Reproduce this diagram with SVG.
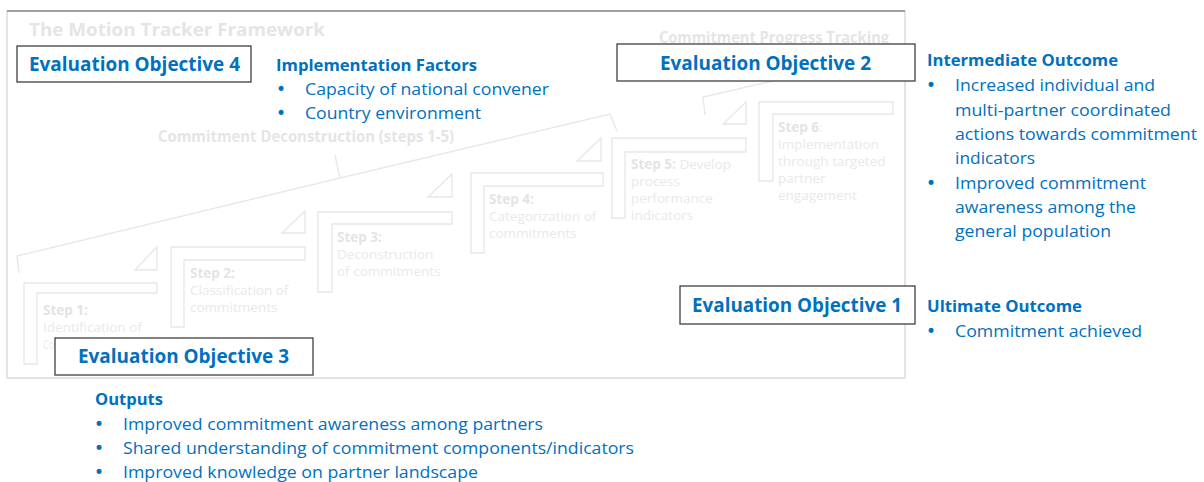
<svg xmlns="http://www.w3.org/2000/svg" width="1204" height="482" viewBox="0 0 1204 482">
  <style>
    .faint-line { fill: none; stroke: #e8e8e8; stroke-width: 1.4; stroke-linejoin: miter; }
    .faint-head { font-family: "Open Sans", "Noto Sans", sans-serif; font-weight: 700; fill: #e5e5e5; }
    .step { font-family: "Open Sans", "Noto Sans", sans-serif; font-size: 13.5px; fill: #e9e9e9; }
    .step .b { font-weight: 700; fill: #e4e4e4; }
    .obj-box { fill: #ffffff; stroke: #404040; stroke-width: 1.3; }
    .obj-text { font-family: "Open Sans", "Noto Sans", sans-serif; font-weight: 700; font-size: 19.5px; fill: #0070c0; }
    .head { font-family: "Open Sans", "Noto Sans", sans-serif; font-weight: 700; font-size: 16.5px; fill: #0070c0; }
    .body { font-family: "Open Sans", "Noto Sans", sans-serif; font-size: 16.5px; fill: #0070c0; }
    .dot { font-family: "DejaVu Sans", sans-serif; font-size: 17px; fill: #0070c0; }
  </style>

  <!-- framework panel (faded backdrop) -->
  <g id="framework">
    <rect x="7" y="11" width="898" height="367" fill="#ffffff" stroke="#e4e4e4" stroke-width="2"/>
    <line x1="7" y1="11" x2="905" y2="11" stroke="#8a8a8a" stroke-width="1.6"/>
    <text class="faint-head" x="29" y="36" font-size="18" textLength="296" lengthAdjust="spacingAndGlyphs">The Motion Tracker Framework</text>
    <text class="faint-head" x="158" y="142" font-size="15.5" textLength="296" lengthAdjust="spacingAndGlyphs">Commitment Deconstruction (steps 1-5)</text>
    <text class="faint-head" x="659" y="43" font-size="15.5" textLength="230" lengthAdjust="spacingAndGlyphs">Commitment Progress Tracking</text>
  </g>

  <!-- braces grouping the steps -->
  <g id="braces" class="faint-line">
    <path d="M19,273 L17,256 L340,178 L335,155 M340,178 L610,114 L617,131"/>
    <path d="M705,115 L703,97 L890,54"/>
  </g>

  <!-- staircase of steps -->
  <g id="step1">
    <polygon class="faint-line" points="24,283 157,283 157,293 37,293 37,364 24,364"/>
    <polygon class="faint-line" points="135,270 157,270 157,247"/>
    <text class="step" x="43" y="315"><tspan class="b">Step 1:</tspan><tspan x="43" y="332">Identification of</tspan></text>
    <text class="step" x="43" y="349" textLength="11" lengthAdjust="spacingAndGlyphs">Co</text>
  </g>
  <g id="step2">
    <polygon class="faint-line" points="171,247 305,247 305,260 184,260 184,327 171,327"/>
    <polygon class="faint-line" points="282,233 305,233 305,211"/>
    <text class="step" x="190" y="278"><tspan class="b">Step 2:</tspan><tspan x="190" y="295">Classification of</tspan><tspan x="190" y="312">commitments</tspan></text>
  </g>
  <g id="step3">
    <polygon class="faint-line" points="318,212 452,212 452,224 332,224 332,292 318,292"/>
    <polygon class="faint-line" points="428,197 452,197 452,174"/>
    <text class="step" x="337" y="242"><tspan class="b">Step 3:</tspan><tspan x="337" y="259">Deconstruction</tspan><tspan x="337" y="276">of commitments</tspan></text>
  </g>
  <g id="step4">
    <polygon class="faint-line" points="471,173 603,173 603,186 484,186 484,253 471,253"/>
    <polygon class="faint-line" points="577,161 601,161 601,138"/>
    <text class="step" x="489" y="204"><tspan class="b">Step 4:</tspan><tspan x="489" y="221">Categorization of</tspan><tspan x="489" y="238">commitments</tspan></text>
  </g>
  <g id="step5">
    <polygon class="faint-line" points="612,138 746,138 746,152 625,152 625,218 612,218"/>
    <polygon class="faint-line" points="723,124 746,124 746,102"/>
    <text class="step" x="631" y="169"><tspan class="b">Step 5:</tspan> Develop<tspan x="631" y="186">process</tspan><tspan x="631" y="203">performance</tspan><tspan x="631" y="220">indicators</tspan></text>
  </g>
  <g id="step6">
    <polygon class="faint-line" points="759,102 893,102 893,114 773,114 773,181 759,181"/>
    <text class="step" x="778" y="132"><tspan class="b">Step 6</tspan>:<tspan x="778" y="149">Implementation</tspan><tspan x="778" y="166">through targeted</tspan><tspan x="778" y="183">partner</tspan><tspan x="778" y="200">engagement</tspan></text>
  </g>

  <!-- evaluation objectives -->
  <g id="objective4">
    <rect class="obj-box" x="17" y="46" width="234" height="36"/>
    <text class="obj-text" x="29" y="71" textLength="211" lengthAdjust="spacingAndGlyphs">Evaluation Objective 4</text>
  </g>
  <g id="objective2">
    <rect class="obj-box" x="617" y="44" width="298" height="37"/>
    <text class="obj-text" x="660" y="70" textLength="211" lengthAdjust="spacingAndGlyphs">Evaluation Objective 2</text>
  </g>
  <g id="objective1">
    <rect class="obj-box" x="680" y="286" width="235" height="38"/>
    <text class="obj-text" x="692" y="312" textLength="210" lengthAdjust="spacingAndGlyphs">Evaluation Objective 1</text>
  </g>
  <g id="objective3">
    <rect class="obj-box" x="55" y="338" width="258" height="37"/>
    <text class="obj-text" x="78" y="363" textLength="211" lengthAdjust="spacingAndGlyphs">Evaluation Objective 3</text>
  </g>

  <!-- implementation factors -->
  <g id="implementation-factors">
    <text class="head" x="276" y="71" textLength="201" lengthAdjust="spacingAndGlyphs">Implementation Factors</text>
    <text class="dot" x="276" y="95">•</text>
    <text class="body" x="305" y="95" textLength="244" lengthAdjust="spacingAndGlyphs">Capacity of national convener</text>
    <text class="dot" x="276" y="119">•</text>
    <text class="body" x="305" y="119" textLength="176" lengthAdjust="spacingAndGlyphs">Country environment</text>
  </g>

  <!-- intermediate outcome -->
  <g id="intermediate-outcome">
    <text class="head" x="927" y="66" textLength="191" lengthAdjust="spacingAndGlyphs">Intermediate Outcome</text>
    <text class="dot" x="926" y="91">•</text>
    <text class="body" x="955" y="91" textLength="200" lengthAdjust="spacingAndGlyphs">Increased individual and</text>
    <text class="body" x="955" y="115.5" textLength="216" lengthAdjust="spacingAndGlyphs">multi-partner coordinated</text>
    <text class="body" x="955" y="140" textLength="242" lengthAdjust="spacingAndGlyphs">actions towards commitment</text>
    <text class="body" x="955" y="164" textLength="80" lengthAdjust="spacingAndGlyphs">indicators</text>
    <text class="dot" x="926" y="189">•</text>
    <text class="body" x="955" y="189" textLength="191" lengthAdjust="spacingAndGlyphs">Improved commitment</text>
    <text class="body" x="955" y="213" textLength="181" lengthAdjust="spacingAndGlyphs">awareness among the</text>
    <text class="body" x="955" y="237" textLength="156" lengthAdjust="spacingAndGlyphs">general population</text>
  </g>

  <!-- ultimate outcome -->
  <g id="ultimate-outcome">
    <text class="head" x="927" y="312" textLength="155" lengthAdjust="spacingAndGlyphs">Ultimate Outcome</text>
    <text class="dot" x="926" y="337">•</text>
    <text class="body" x="955" y="337" textLength="187" lengthAdjust="spacingAndGlyphs">Commitment achieved</text>
  </g>

  <!-- outputs -->
  <g id="outputs">
    <text class="head" x="95" y="405" textLength="68" lengthAdjust="spacingAndGlyphs">Outputs</text>
    <text class="dot" x="94" y="430">•</text>
    <text class="body" x="123" y="430" textLength="420" lengthAdjust="spacingAndGlyphs">Improved commitment awareness among partners</text>
    <text class="dot" x="94" y="454">•</text>
    <text class="body" x="123" y="454" textLength="511" lengthAdjust="spacingAndGlyphs">Shared understanding of commitment components/indicators</text>
    <text class="dot" x="94" y="478">•</text>
    <text class="body" x="123" y="478" textLength="355" lengthAdjust="spacingAndGlyphs">Improved knowledge on partner landscape</text>
  </g>
</svg>
